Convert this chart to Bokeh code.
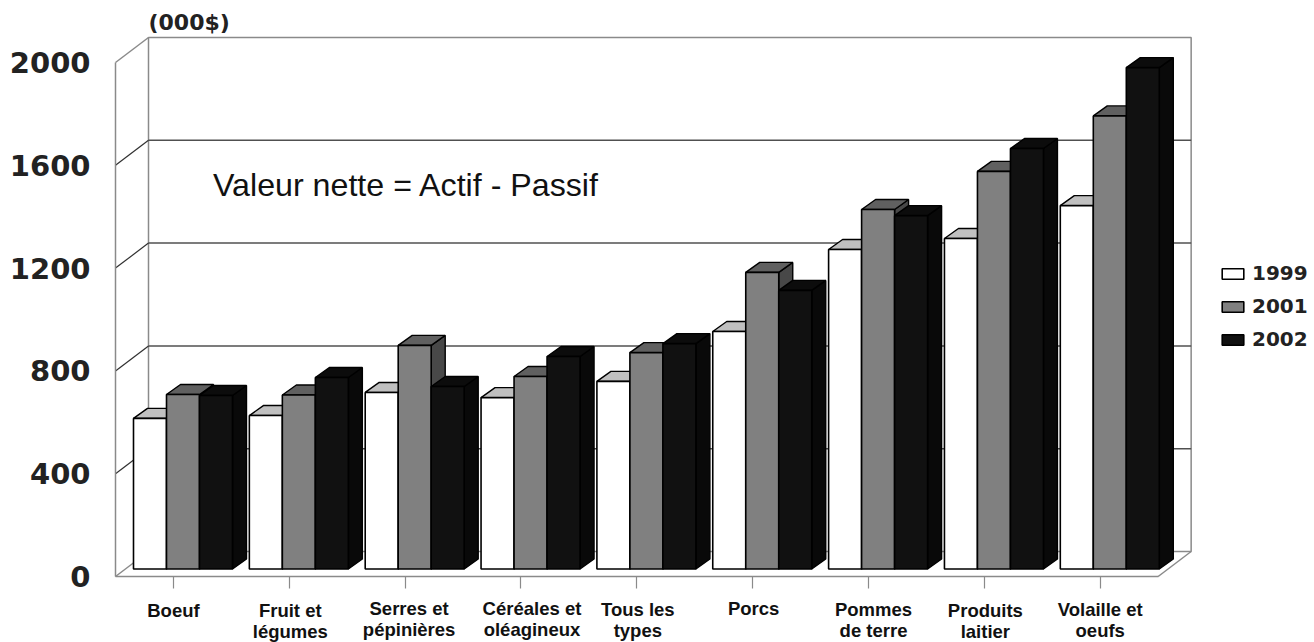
from bokeh.plotting import figure
from bokeh.models import FixedTicker, Range1d, Legend, LegendItem, Label
from bokeh.embed import file_html
from bokeh.resources import INLINE

categories = ["Boeuf", "Fruit et\nlégumes", "Serres et\npépinières", "Céréales et\noléagineux",
              "Tous les\ntypes", "Porcs", "Pommes\nde terre", "Produits\nlaitier", "Volaille et\noeufs"]
years = ["1999", "2001", "2002"]
values_1999 = [586, 597, 687, 667, 730, 924, 1243, 1286, 1414]
values_2001 = [679, 677, 870, 749, 842, 1154, 1399, 1547, 1763]
values_2002 = [675, 745, 710, 827, 877, 1084, 1375, 1636, 1951]
y_ticks = [0, 400, 800, 1200, 1600, 2000]

# small hand placement of the category labels relative to their ticks, in pixels
label_shift_x = [0, 1, 4, 11, 1, 1, 5, 1, 0]
label_line_y = [609, 609, 607, 607, 608, 607, 608, 609, 608]

series = [values_1999, values_2001, values_2002]
front_colors = ["#ffffff", "#808080", "#111111"]
top_colors = ["#c0c0c0", "#606060", "#0c0c0c"]
side_colors = ["#909090", "#484848", "#090909"]

PX_X = 115.85         # pixels per category
PX_Y = 0.257          # pixels per value unit
W, H = 1314, 642
LEFT, BOTTOM = 115, 66

wall_dx, wall_dy = 33 / PX_X, 25 / PX_Y
bar_dx, bar_dy = 14 / PX_X, 10 / PX_Y
base_x, base_y = 10 / PX_X, 7.5 / PX_Y
gap = 8 / PX_X
bar_w = 33 / PX_X

p = figure(width=W, height=H, output_backend="svg", toolbar_location=None,
           x_range=Range1d(-LEFT / PX_X, (W - LEFT) / PX_X),
           y_range=Range1d(-BOTTOM / PX_Y, (H - BOTTOM) / PX_Y),
           min_border=0)
p.outline_line_color = None
p.grid.visible = False
p.background_fill_color = "white"

n = len(categories)
top_val = y_ticks[-1]
wall = "#8a8a8a"
p.patch([wall_dx, n + wall_dx, n + wall_dx, wall_dx],
        [wall_dy, wall_dy, top_val + wall_dy, top_val + wall_dy],
        fill_color="white", line_color=wall, line_width=1.5)
mid = y_ticks[1:-1]
p.multi_line([[wall_dx, n + wall_dx] for _ in mid], [[v + wall_dy, v + wall_dy] for v in mid],
             line_color="#505050", line_width=1.5)
p.multi_line([[0, wall_dx] for _ in mid], [[v, v + wall_dy] for v in mid],
             line_color="#303030", line_width=1.2)
p.multi_line([[0, wall_dx], [n, n + wall_dx], [0, wall_dx]],
             [[0, wall_dy], [0, wall_dy], [top_val, top_val + wall_dy]],
             line_color=wall, line_width=1.5)

front_renderers = []
for s, vals in enumerate(series):
    lefts = [i + base_x + gap + s * bar_w for i in range(n)]
    rights = [l + bar_w for l in lefts]
    tops = [v + base_y for v in vals]
    bottoms = [base_y] * n
    xs_top = [[l, r, r + bar_dx, l + bar_dx] for l, r in zip(lefts, rights)]
    ys_top = [[t, t, t + bar_dy, t + bar_dy] for t in tops]
    xs_side = [[r, r + bar_dx, r + bar_dx, r] for r in rights]
    ys_side = [[base_y, base_y + bar_dy, t + bar_dy, t] for t in tops]
    p.patches(xs_side, ys_side, fill_color=side_colors[s], line_color="#000000", line_width=1.4)
    p.patches(xs_top, ys_top, fill_color=top_colors[s], line_color="#000000", line_width=1.4)
    r = p.quad(left=lefts, right=rights, top=tops, bottom=bottoms,
               fill_color=front_colors[s], line_color="#000000", line_width=1.6)
    front_renderers.append(r)

xa = p.xaxis[0]
xa.fixed_location = 0
xa.ticker = FixedTicker(ticks=[i + 0.5 for i in range(n)])
xa.major_label_overrides = {i + 0.5: "" for i in range(n)}
xa.bounds = (0, n)
xa.axis_line_color = wall
xa.axis_line_width = 1.5
xa.major_tick_line_color = wall
xa.major_tick_line_width = 1.2
xa.major_tick_in = 0
xa.major_tick_out = 12
xa.minor_tick_line_color = None

for i, c in enumerate(categories):
    p.add_layout(Label(x=i + 0.5 + label_shift_x[i] / PX_X, y=(576 - label_line_y[i] + 10) / PX_Y,
                       text=c, text_align="center", text_baseline="top",
                       text_font="Liberation Sans", text_font_style="bold", text_font_size="18.5px",
                       text_line_height=1.0, text_color="#111111"))

ya = p.yaxis[0]
ya.fixed_location = 0
ya.ticker = FixedTicker(ticks=y_ticks)
ya.bounds = (0, top_val)
ya.axis_line_color = wall
ya.axis_line_width = 1.5
ya.major_tick_line_color = None
ya.major_tick_in = 0
ya.major_tick_out = 0
ya.minor_tick_line_color = None
ya.major_label_standoff = 25
ya.major_label_text_font = "DejaVu Sans"
ya.major_label_text_font_style = "bold"
ya.major_label_text_font_size = "29px"
ya.major_label_text_color = "#222222"

p.add_layout(Label(x=33 / PX_X, y=(576 - 22) / PX_Y, text="(000$)", text_font="DejaVu Sans",
                   text_font_style="bold", text_font_size="22px", text_color="#222222",
                   text_baseline="middle"))
p.add_layout(Label(x=97.5 / PX_X, y=(576 - 184) / PX_Y, text="Valeur nette = Actif - Passif",
                   text_font="Liberation Sans", text_font_size="32.2px", text_color="#111111",
                   text_baseline="middle"))

legend = Legend(items=[LegendItem(label=y, renderers=[r]) for y, r in zip(years, front_renderers)],
                location=(1219, 291), orientation="vertical", background_fill_alpha=0,
                border_line_color=None, padding=0, margin=0, spacing=9,
                glyph_width=27, glyph_height=13, label_standoff=6,
                label_text_font="DejaVu Sans", label_text_font_style="bold",
                label_text_font_size="20px", label_text_color="#222222")
p.add_layout(legend)

open("out.html", "w").write(file_html(p, INLINE))
